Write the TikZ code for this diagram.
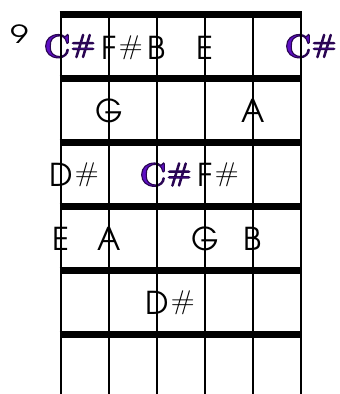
\documentclass[tikz,border=0pt]{standalone}
\usepackage{graphicx}
\usepackage{fontspec}
\newfontfamily\advfont{texgyreadventor-regular.otf}
\definecolor{purp}{HTML}{5E0FC4}
\newcommand{\outl}[1]{\special{pdf:literal direct 2 Tr 1.1 w 0.16 0.02 0.32 RG}#1\special{pdf:literal direct 0 Tr}}
\newcommand{\sh}{\rlap{\hspace{2pt}{\normalfont\sffamily\fontsize{27}{30}\selectfont\raisebox{5pt}{\scalebox{1.15}[1]{\#}}}}}
\newcommand{\rsh}{\rlap{\hspace{0.5pt}{\normalfont\rmfamily\bfseries\fontsize{26}{30}\selectfont\raisebox{5pt}{\#}}}}
\begin{document}
\begin{tikzpicture}[x=1pt,y=-1pt,
  stringline/.style={line width=2.8pt},
  fretline/.style={line width=7.5pt},
  note/.style={font=\advfont\fontsize{31.5}{36}\selectfont, anchor=base, inner sep=0pt},
  root/.style={font=\rmfamily\bfseries\fontsize{33}{36}\selectfont, text=purp, anchor=base, inner sep=0pt},
  fretnum/.style={font=\advfont\fontsize{25}{30}\selectfont, anchor=base, inner sep=0pt},
]
\useasboundingbox (0,0) rectangle (340,394);
% frets
\foreach \i in {0,...,5} \draw[fretline] (59.6,{14.5+64*\i}) -- (302.4,{14.5+64*\i});
% fret number
\node[fretnum] (num) at (19.5,43) {\scalebox{1.3}[1]{9}};
% row 1
\node[root] (r1a) at (57,57.5) {\outl{C\rsh}};
\node[note] (r1b) at (109,59.5) {F\sh};
\node[note] (r1c) at (157,59.5) {B};
\node[note] (r1d) at (205,59.5) {E};
\node[root] (r1e) at (298,57.5) {\outl{C\rsh}};
% row 2
\node[note] (r2a) at (109,122) {G};
\node[note] (r2b) at (253,122) {A};
% row 3
\node[note] (r3a) at (61,186) {D\sh};
\node[root] (r3b) at (153,186) {\outl{C\rsh}};
\node[note] (r3c) at (205,186) {F\sh};
% row 4
\node[note] (r4a) at (61,250) {E};
\node[note] (r4b) at (109,250) {A};
\node[note] (r4c) at (205,250) {G};
\node[note] (r4d) at (253,250) {B};
% row 5
\node[note] (r5a) at (157,314) {D\sh};
% strings
\foreach \i in {0,...,5} \draw[stringline] ({61+48*\i},11) -- ({61+48*\i},394);
\end{tikzpicture}
\end{document}
